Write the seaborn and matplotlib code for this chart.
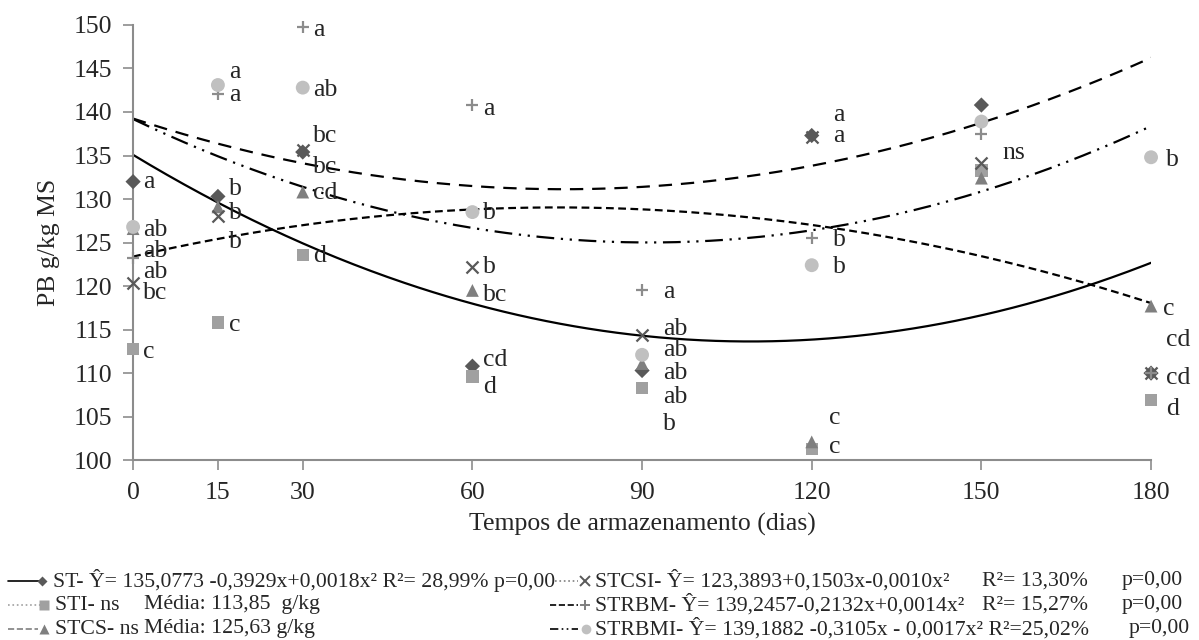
import matplotlib
matplotlib.use("Agg")
import matplotlib.pyplot as plt
from matplotlib.lines import Line2D
import numpy as np
import pandas as pd
import seaborn as sns

# storage times (days)
dias = [0, 15, 30, 60, 90, 120, 150, 180]

# crude protein (g/kg DM) per treatment
st = [132.0, 130.3, 135.4, 110.8, 110.3, 137.3, 140.8, 110.0]
sti = [112.8, 115.8, 123.6, 109.6, 108.3, 101.3, 133.3, 106.9]
stcs = [126.6, 129.1, 130.8, 119.5, 111.1, 102.1, 132.4, 117.7]
stcsi = [120.4, 128.0, 135.6, 122.2, 114.4, 137.1, 134.1, 110.0]
strbm = [123.2, 142.1, 149.8, 140.8, 119.6, 125.5, 137.5, 110.0]
strbmi = [126.8, 143.1, 142.8, 128.5, 112.1, 122.4, 138.9, 134.8]

# regression coefficients (x^2, x, const)
coef_st = [0.0018, -0.3929, 135.0773]
coef_stcsi = [-0.0010, 0.1503, 123.3893]
coef_strbm = [0.0014, -0.2132, 139.2457]
coef_strbmi = [0.0017, -0.3105, 139.1882]

# letters of the mean comparison (x, y, text)
letras = [
    (1.8, 132.0, "a"), (1.8, 126.4, "ab"), (1.8, 124.0, "ab"), (1.8, 121.6, "ab"),
    (1.8, 119.2, "bc"), (1.8, 112.4, "c"),
    (17.0, 144.6, "a"), (17.0, 142.0, "a"), (17.0, 131.2, "b"), (17.0, 128.4, "b"),
    (17.0, 125.1, "b"), (17.0, 115.5, "c"),
    (31.8, 149.4, "a"), (31.8, 142.5, "ab"), (31.8, 137.2, "bc"), (31.8, 133.7, "bc"),
    (31.8, 130.7, "cd"), (31.8, 123.4, "d"),
    (61.9, 140.4, "a"), (61.9, 128.4, "b"), (61.9, 122.2, "b"), (61.9, 119.0, "bc"),
    (61.9, 111.5, "cd"), (61.9, 108.4, "d"),
    (93.7, 119.3, "a"), (93.7, 115.1, "ab"), (93.7, 112.6, "ab"), (93.7, 110.0, "ab"),
    (93.7, 107.3, "ab"), (93.7, 104.2, "b"),
    (123.8, 139.7, "a"), (123.8, 137.2, "a"), (123.8, 125.3, "b"), (123.8, 122.2, "b"),
    (123.0, 104.8, "c"), (123.0, 101.5, "c"),
    (153.8, 135.3, "ns"),
    (182.6, 134.5, "b"), (182.1, 117.4, "c"), (182.6, 113.8, "cd"),
    (182.6, 109.4, "cd"), (182.6, 105.9, "d"),
]

sns.set_theme(style="white")
plt.rcParams["font.family"] = ["Liberation Serif", "DejaVu Serif"]

fig = plt.figure(figsize=(11.99, 6.4), dpi=100)
ax = fig.add_axes([0.111, 0.281, 0.849, 0.680])

series = [
    ("ST", st, "D", "#595959", 60),
    ("STI", sti, "s", "#a0a0a0", 80),
    ("STCS", stcs, "^", "#7f7f7f", 85),
    ("STCSI", stcsi, "x", "#595959", 75),
    ("STRBM", strbm, "+", "#8c8c8c", 75),
    ("STRBMI", strbmi, "o", "#c0c0c0", 100),
]

# fitted curves
xs = np.linspace(0, 180, 361)
curvas = [
    (coef_st, "-"),
    (coef_stcsi, (0, (3.5, 2.0))),
    (coef_strbm, (0, (6.0, 4.0))),
    (coef_strbmi, (0, (8, 3, 1, 3, 1, 3))),
]
for coef, ls in curvas:
    sns.lineplot(x=xs, y=np.polyval(coef, xs), color="black", ax=ax, lw=1.6)
    ax.lines[-1].set_linestyle(ls)

for nome, vals, mk, cor, s in series:
    df = pd.DataFrame({"dias": dias, "pb": vals})
    if mk in ("x", "+"):
        sns.scatterplot(data=df, x="dias", y="pb", marker=mk, color=cor, s=s,
                        linewidth=1.6, ax=ax, clip_on=False, zorder=3)
    else:
        sns.scatterplot(data=df, x="dias", y="pb", marker=mk, color=cor, s=s,
                        edgecolor="none", ax=ax, clip_on=False, zorder=3)

for x, y, t in letras:
    ax.text(x, y, t, fontsize=18.5, va="center", ha="left", clip_on=False)

ax.set_xlim(0, 180)
ax.set_ylim(100, 150)
ax.set_xticks(dias)
ax.set_yticks(range(100, 151, 5))
ax.tick_params(axis="both", labelsize=18.5, length=7, width=1.2, color="#8c8c8c",
               direction="out", left=True, bottom=True)
ax.tick_params(axis="y", pad=8)
ax.tick_params(axis="x", pad=9)
for side in ("top", "right"):
    ax.spines[side].set_visible(False)
for side in ("left", "bottom"):
    ax.spines[side].set_color("#8c8c8c")
    ax.spines[side].set_linewidth(1.5)
ax.set_xlabel("Tempos de armazenamento (dias)", fontsize=18.5, labelpad=6)
ax.set_ylabel("PB g/kg MS", fontsize=18.5, labelpad=10)
ax.grid(False)

# legend drawn by hand below the axes (Excel style)
W, H = 1199, 640


def entrada(x0, x1, xm, py, ls, mk, cor, lcor, partes):
    fy = 1 - py / H
    fig.add_artist(Line2D([x0 / W, x1 / W], [fy, fy], transform=fig.transFigure,
                          color=lcor, lw=1.2, linestyle=ls))
    kw = dict(markeredgewidth=1.4) if mk in ("x", "+") else dict(markeredgecolor="none")
    fig.add_artist(Line2D([xm / W], [fy], transform=fig.transFigure,
                          marker=mk, color=cor, markersize=7 if mk != "D" else 5, **kw))
    for px, txt in partes:
        fig.text(px / W, fy, txt, fontsize=15.7, va="center", ha="left")


entrada(8, 40, 42, 581, "-", "D", "#595959", "black",
        [(53, "ST- Ŷ= 135,0773 -0,3929x+0,0018x² R²= 28,99% p=0,00")])
entrada(8, 40, 44, 605, ":", "s", "#a0a0a0", "#a0a0a0",
        [(55, "STI- ns"), (144, "Média: 113,85  g/kg")])
entrada(8, 38, 44, 629, "--", "^", "#7f7f7f", "#7f7f7f",
        [(55, "STCS- ns"), (144, "Média: 125,63 g/kg")])
entrada(555, 578, 585, 581, ":", "x", "#595959", "#7f7f7f",
        [(595, "STCSI- Ŷ= 123,3893+0,1503x-0,0010x²"), (982, "R²= 13,30%"),
         (1122, "p=0,00")])
entrada(550, 578, 585, 605, "--", "+", "#7f7f7f", "black",
        [(595, "STRBM- Ŷ= 139,2457-0,2132x+0,0014x²"), (982, "R²= 15,27%"),
         (1122, "p=0,00")])
entrada(550, 578, 586, 629, (0, (5, 2, 1, 2, 1, 2)), "o", "#c0c0c0", "black",
        [(595, "STRBMI- Ŷ= 139,1882 -0,3105x - 0,0017x² R²=25,02%"), (1129, "p=0,00")])

fig.savefig("out.png", dpi=100)
